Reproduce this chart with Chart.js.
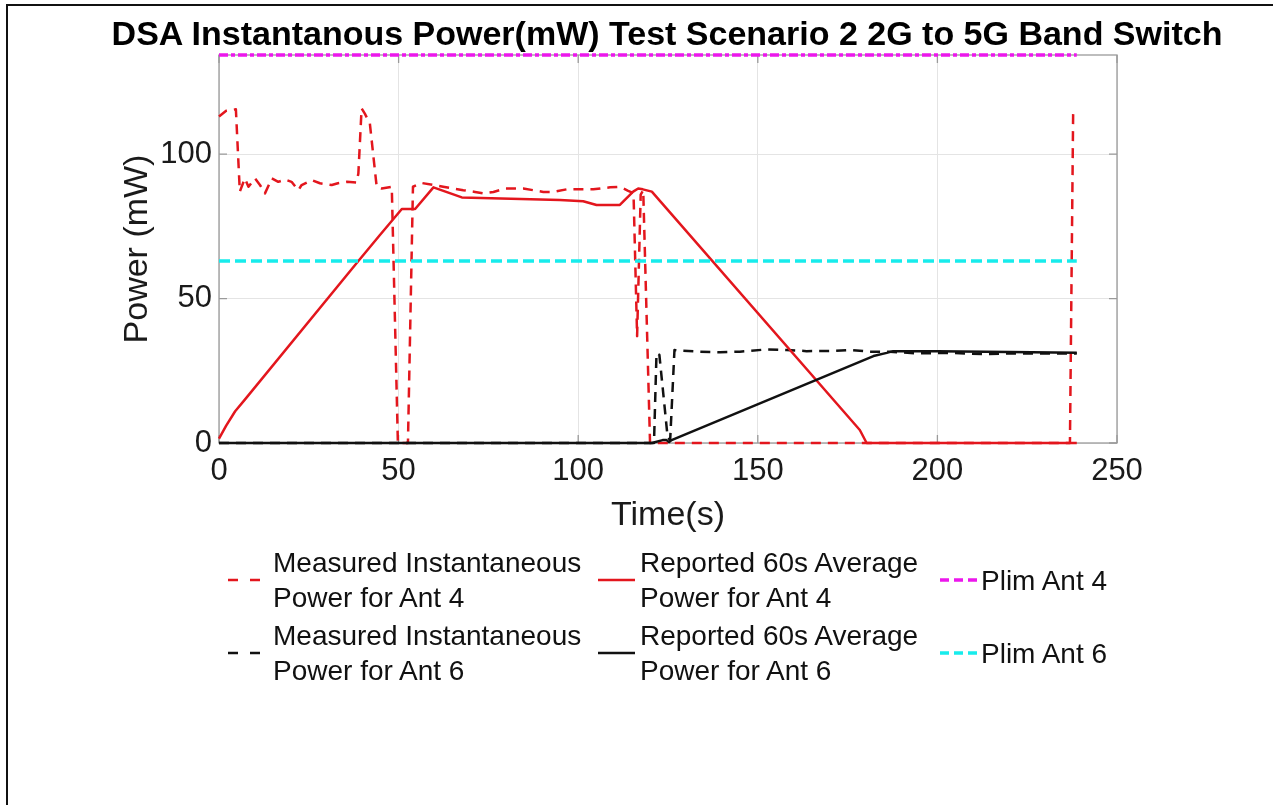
<!DOCTYPE html>
<html>
<head>
<meta charset="utf-8">
<script src="https://cdn.jsdelivr.net/npm/chart.js@4.4.0/dist/chart.umd.min.js"></script>
<style>
  html, body { margin: 0; padding: 0; background: #fff; }
  body { width: 1283px; height: 805px; position: relative; overflow: hidden;
         font-family: "Liberation Sans", Arial, sans-serif; }
  #wrap { position: absolute; left: 0; top: 0; width: 1283px; height: 805px; }
  .frame-top { position: absolute; left: 6px; top: 4px; width: 1267px; height: 2px; background: #111; }
  .frame-left { position: absolute; left: 6px; top: 4px; width: 2px; height: 801px; background: #111; }
  #title { position: absolute; left: 267px; width: 800px; top: 12px; line-height: 42px; text-align: center;
           font-size: 34px; font-weight: bold; color: #000; white-space: nowrap;
           display: flex; justify-content: center; }
  .leg-text { position: absolute; font-size: 28px; line-height: 35px; color: #111; white-space: nowrap; }
  #legend svg { position: absolute; left: 0; top: 0; }
</style>
</head>
<body>
<div id="wrap"><canvas id="chart" width="1283" height="805"></canvas></div>
<div class="frame-top"></div>
<div class="frame-left"></div>
<div id="title"><span>DSA Instantanous Power(mW) Test Scenario 2 2G to 5G Band Switch</span></div>
<div id="legend"></div>
<script>
// axis ticks
const xTicks = [0, 50, 100, 150, 200, 250];
const yTicks = [0, 50, 100];
const xMax = 250;
const yMax = 134.3;

// Measured instantaneous power, Ant 4 (red dashed)
const measAnt4T = [0, 2, 4.7, 5.8, 7.2, 8.2, 10, 11.4, 12.8, 14.7, 16.5, 18.4, 20.2, 22.1, 23, 25.8, 28.1, 31.4, 33.1, 35.6,
  38.3, 38.8, 39.7, 40.6, 42, 43, 43.9, 45.3, 48.1, 49.8, 52.6, 54, 56.4, 59.7, 62.4, 65.2, 68, 71.3, 73.6, 76.4,
  79.6, 84.7, 90.3, 93.1, 96.8, 100.5, 104.2, 108.9, 111.6, 113.9, 115.4, 116.4, 117.4, 118.1, 120, 236.9, 237.8];
const measAnt4P = [113, 115, 115.5, 87, 91.6, 88.7, 91.6, 89.3, 86.4, 91.6, 90.4, 91.2, 90.4, 87.5, 89.3, 91, 89.9, 89.3, 89.9, 90.4,
  90.2, 93.3, 115.8, 114, 110.6, 99, 88.7, 88.1, 88.7, 0, 0, 88.7, 90, 89.3, 88.7, 88.1, 87.5, 86.9, 86.4, 86.9,
  88.1, 88.1, 86.9, 86.9, 87.8, 87.8, 87.8, 88.5, 88.7, 87.3, 86.5, 37, 86, 87.5, 0, 0, 115.2];

// Reported 60s average, Ant 4 (red solid)
const repAnt4T = [0, 2, 4.5, 7.2, 38.8, 44.8, 50.9, 54.6, 59.7, 67.6, 94.9, 101.4, 105.1, 111.6, 115.3, 116.7, 118, 120.5, 178.4, 180.3, 238.8];
const repAnt4P = [1.5, 6, 11, 15, 63, 72, 81, 81, 88.5, 85, 84.1, 83.7, 82.4, 82.4, 87, 88.1, 87.8, 87, 4.5, 0, 0];

// Measured instantaneous power, Ant 6 (black dashed)
const measAnt6T = [0, 121.1, 121.8, 122.6, 124.9, 125.6, 126.8, 127.6, 133.9, 139.5, 145, 152.5, 158, 163.6, 171, 175.7,
  181.2, 186.8, 194.2, 203.5, 212.7, 222, 231.3, 238.8];
const measAnt6P = [0, 0, 31.1, 30.5, 2, 1, 32.2, 32, 31.6, 31.4, 31.6, 32.4, 32.2, 31.8, 31.9, 32.2,
  31.6, 31.6, 31, 31.2, 30.8, 31, 31, 31];

// Reported 60s average, Ant 6 (black solid)
const repAnt6T = [0, 120.5, 123.5, 124.6, 125.3, 126, 182.2, 185.9, 187.7, 200, 220, 238.8];
const repAnt6P = [0, 0, 1, 1, 0.3, 1, 30.1, 31.2, 31.8, 31.8, 31.5, 31.2];

// power limits
const plimT = [0, 238.8];
const plimAnt4P = [134.3, 134.3];
const plimAnt6P = [63, 63];

const RED = '#e3161d';
const BLACK = '#111111';
const MAGENTA = '#ec17ec';
const CYAN = '#17ecec';
const AXIS = '#9a9a9a';

Chart.defaults.font.family = "'Liberation Sans', Arial, sans-serif";
Chart.defaults.color = '#1a1a1a';

function pts(ts, ps) {
  return ts.map((t, i) => ({ x: t, y: ps[i] }));
}

// MATLAB style: later series on top -> higher order drawn first
const datasets = [
  { label: ['Measured Instantaneous', 'Power for Ant 4'], data: pts(measAnt4T, measAnt4P),
    borderColor: RED, borderWidth: 2.5, borderDash: [10, 7], order: 6 },
  { label: ['Measured Instantaneous', 'Power for Ant 6'], data: pts(measAnt6T, measAnt6P),
    borderColor: BLACK, borderWidth: 2.5, borderDash: [10, 7], order: 5 },
  { label: ['Reported 60s Average', 'Power for Ant 4'], data: pts(repAnt4T, repAnt4P),
    borderColor: RED, borderWidth: 2.5, borderDash: [], order: 4 },
  { label: ['Reported 60s Average', 'Power for Ant 6'], data: pts(repAnt6T, repAnt6P),
    borderColor: BLACK, borderWidth: 2.5, borderDash: [], order: 3 },
  { label: ['Plim Ant 4'], data: pts(plimT, plimAnt4P),
    borderColor: MAGENTA, borderWidth: 3.5, borderDash: [9, 3, 4, 3], order: 2 },
  { label: ['Plim Ant 6'], data: pts(plimT, plimAnt6P),
    borderColor: CYAN, borderWidth: 3.5, borderDash: [11, 5], order: 1 }
];
datasets.forEach(d => Object.assign(d, {
  showLine: true, pointRadius: 0, fill: false, tension: 0, clip: false,
  borderJoinStyle: 'round', backgroundColor: d.borderColor
}));

// box around the axes and inward tick marks (top/bottom/left/right)
const boxTicks = {
  id: 'boxTicks',
  beforeDatasetsDraw(chart) {
    const { ctx, chartArea: a, scales: { x, y } } = chart;
    const len = 8;
    ctx.save();
    ctx.strokeStyle = AXIS;
    ctx.lineWidth = 1.3;
    ctx.strokeRect(a.left, a.top, a.right - a.left, a.bottom - a.top);
    ctx.beginPath();
    x.ticks.forEach(t => {
      const px = x.getPixelForValue(t.value);
      ctx.moveTo(px, a.bottom); ctx.lineTo(px, a.bottom - len);
      ctx.moveTo(px, a.top); ctx.lineTo(px, a.top + len);
    });
    y.ticks.forEach(t => {
      const py = y.getPixelForValue(t.value);
      ctx.moveTo(a.left, py); ctx.lineTo(a.left + len, py);
      ctx.moveTo(a.right, py); ctx.lineTo(a.right - len, py);
    });
    ctx.stroke();
    ctx.restore();
  }
};

const chart = new Chart(document.getElementById('chart'), {
  type: 'scatter',
  data: { datasets: datasets },
  options: {
    responsive: false,
    animation: false,
    events: [],
    layout: { padding: { left: 0, right: 166, top: 55, bottom: 0 } },
    plugins: {
      legend: { display: false },
      tooltip: { enabled: false },
      title: { display: false }
    },
    scales: {
      x: {
        type: 'linear',
        min: 0,
        max: xMax,
        afterBuildTicks: s => { s.ticks = xTicks.map(v => ({ value: v })); },
        afterFit: s => { s.height = 805 - 443; s.paddingLeft = 0; s.paddingRight = 0; },
        grid: { color: '#e4e4e4', drawTicks: false, lineWidth: 1 },
        border: { display: false },
        ticks: { font: { size: 31, lineHeight: 1.2 }, padding: 10, maxRotation: 0, color: '#1a1a1a' },
        title: { display: true, text: 'Time(s)', font: { size: 34, lineHeight: 1.2 },
                 padding: { top: 0, bottom: 269 }, color: '#1a1a1a' }
      },
      y: {
        type: 'linear',
        min: 0,
        max: yMax,
        afterBuildTicks: s => { s.ticks = yTicks.map(v => ({ value: v })); },
        afterFit: s => { s.width = 219; s.paddingTop = 0; s.paddingBottom = 0; },
        grid: { color: '#e4e4e4', drawTicks: false, lineWidth: 1 },
        border: { display: false },
        ticks: { font: { size: 31, lineHeight: 1.2 }, padding: 7, color: '#1a1a1a' },
        title: { display: true, text: 'Power (mW)', font: { size: 34, lineHeight: 1.2 },
                 padding: { top: 117, bottom: 0 }, color: '#1a1a1a' }
      }
    }
  },
  plugins: [boxTicks]
});

// legend below the plot, 3 columns x 2 rows, built from the datasets
const legendCols = [
  { x0: 228, x1: 262, tx: 273 },
  { x0: 598, x1: 635, tx: 640 },
  { x0: 940, x1: 977, tx: 981 }
];
const legendRows = [580, 653];
const legendDash = [[10, 12], [10, 12], [], [], [9, 5], [9, 5]];

const legendEl = document.getElementById('legend');
const svgNS = 'http://www.w3.org/2000/svg';
const svg = document.createElementNS(svgNS, 'svg');
svg.setAttribute('width', 1283);
svg.setAttribute('height', 805);
legendEl.appendChild(svg);

chart.data.datasets.forEach((ds, i) => {
  const col = legendCols[Math.floor(i / 2)];
  const rowY = legendRows[i % 2];
  const line = document.createElementNS(svgNS, 'line');
  line.setAttribute('x1', col.x0);
  line.setAttribute('x2', col.x1);
  line.setAttribute('y1', rowY);
  line.setAttribute('y2', rowY);
  line.setAttribute('stroke', ds.borderColor);
  line.setAttribute('stroke-width', ds.borderWidth);
  if (legendDash[i].length) line.setAttribute('stroke-dasharray', legendDash[i].join(' '));
  svg.appendChild(line);

  const txt = document.createElement('div');
  txt.className = 'leg-text';
  txt.style.left = col.tx + 'px';
  txt.style.top = (rowY - 17.5 * ds.label.length) + 'px';
  txt.innerHTML = ds.label.join('<br>');
  legendEl.appendChild(txt);
});
</script>
</body>
</html>
